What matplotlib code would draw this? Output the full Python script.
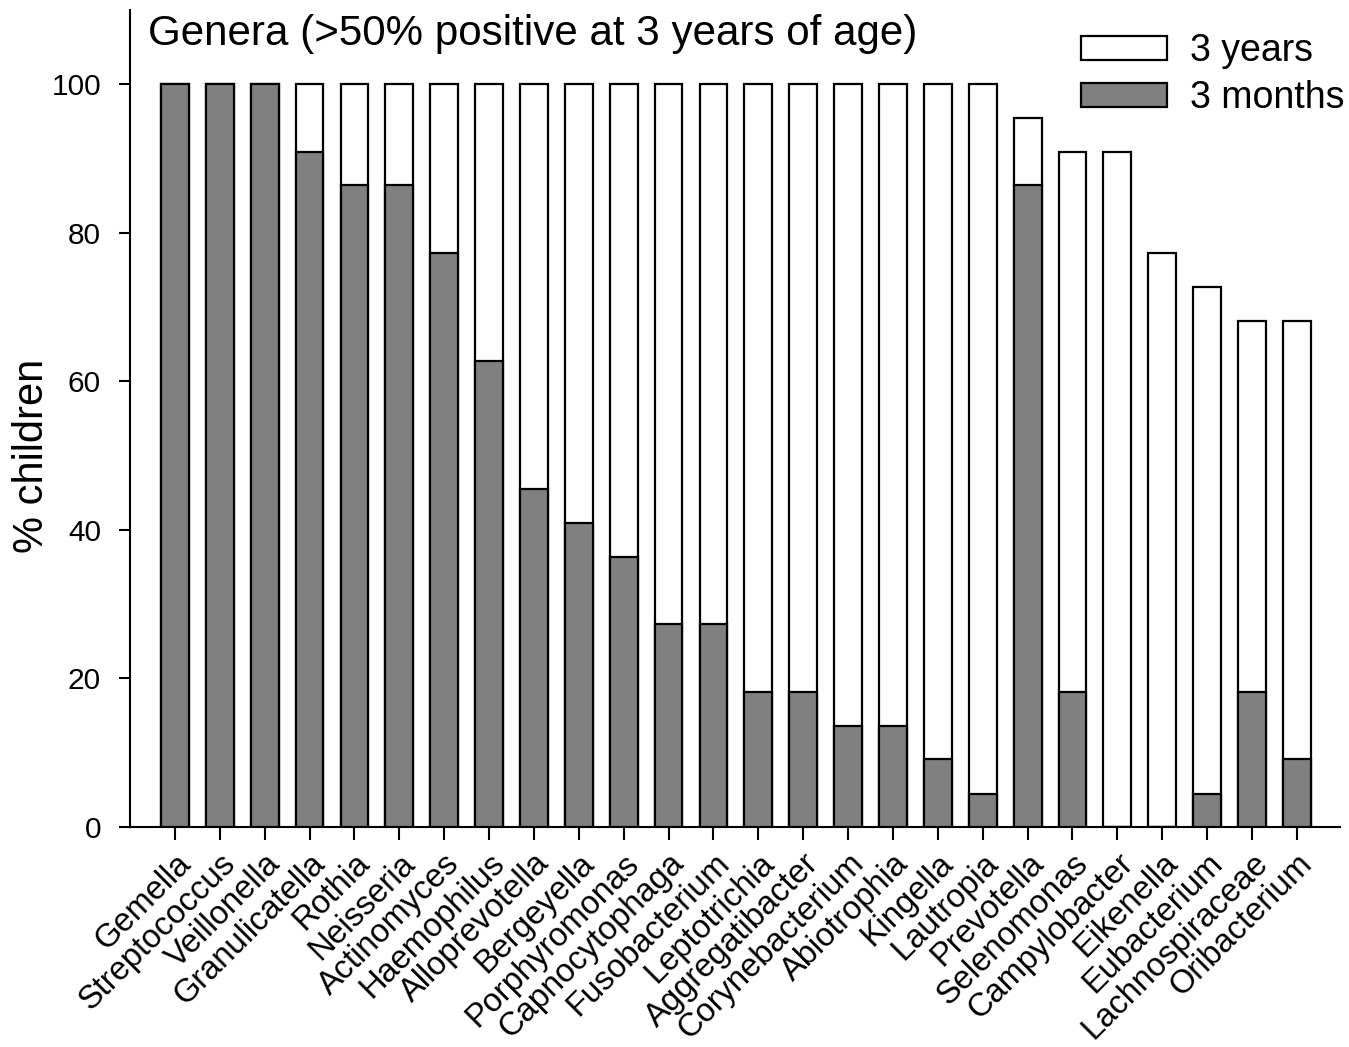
import matplotlib
matplotlib.use("Agg")
import matplotlib.pyplot as plt
import numpy as np

plt.rcParams['font.family'] = ['Liberation Sans', 'DejaVu Sans']

genera = ["Gemella", "Streptococcus", "Veillonella", "Granulicatella", "Rothia",
          "Neisseria", "Actinomyces", "Haemophilus", "Alloprevotella", "Bergeyella",
          "Porphyromonas", "Capnocytophaga", "Fusobacterium", "Leptotrichia",
          "Aggregatibacter", "Corynebacterium", "Abiotrophia", "Kingella",
          "Lautropia", "Prevotella", "Selenomonas", "Campylobacter", "Eikenella",
          "Eubacterium", "Lachnospiraceae", "Oribacterium"]

# % children positive at 3 years of age
years3 = [100, 100, 100, 100, 100, 100, 100, 100, 100, 100, 100, 100, 100, 100,
          100, 100, 100, 100, 100, 95.5, 90.9, 90.9, 77.3, 72.7, 68.2, 68.2]
# % children positive at 3 months of age
months3 = [100, 100, 100, 90.9, 86.4, 86.4, 77.3, 62.7, 45.5, 40.9, 36.4, 27.3,
           27.3, 18.2, 18.2, 13.6, 13.6, 9.1, 4.5, 86.4, 18.2, 0, 0, 4.5, 18.2, 9.1]

fig = plt.figure(figsize=(13.49, 10.47), dpi=100)
ax = fig.add_axes([0.0964, 0.2101, 0.8969, 0.7803])

x = np.arange(len(genera))
w = 0.62
ax.bar(x, years3, width=w, color="white", edgecolor="black", linewidth=1.6,
       label="3 years", zorder=2)
ax.bar(x, months3, width=w, color="#808080", edgecolor="black", linewidth=1.6,
       label="3 months", zorder=3)

ax.set_xlim(-1.0, len(genera) - 1 + 0.96)
ax.set_ylim(0, 110)
ax.set_yticks([0, 20, 40, 60, 80, 100])
ax.set_xticks(x)
ax.set_xticklabels(genera, rotation=45, ha="right", rotation_mode="anchor",
                   fontsize=23.5)
ax.tick_params(axis="y", labelsize=21.5, length=8, width=1.5, direction="out", pad=13)
ax.tick_params(axis="x", length=9, width=1.5, direction="out", pad=6)

for s in ["top", "right"]:
    ax.spines[s].set_visible(False)
for s in ["left", "bottom"]:
    ax.spines[s].set_linewidth(1.5)

ax.set_ylabel("% children", fontsize=30)
ax.yaxis.set_label_coords(-0.0645, 50 / 110)
ax.text(0.015, 0.995, "Genera (>50% positive at 3 years of age)",
        transform=ax.transAxes, ha="left", va="top", fontsize=30.3)

# legend placed in figure pixels so it can run past the axis end
leg = ax.legend(loc="upper right", frameon=False, fontsize=27, handlelength=2.3,
                handleheight=0.6, handletextpad=0.6, labelspacing=0.29,
                bbox_to_anchor=(1344 / 1349, 1 - 33 / 1047),
                bbox_transform=fig.transFigure, borderaxespad=0.0, borderpad=0.0)

fig.savefig("out.png", dpi=100)
